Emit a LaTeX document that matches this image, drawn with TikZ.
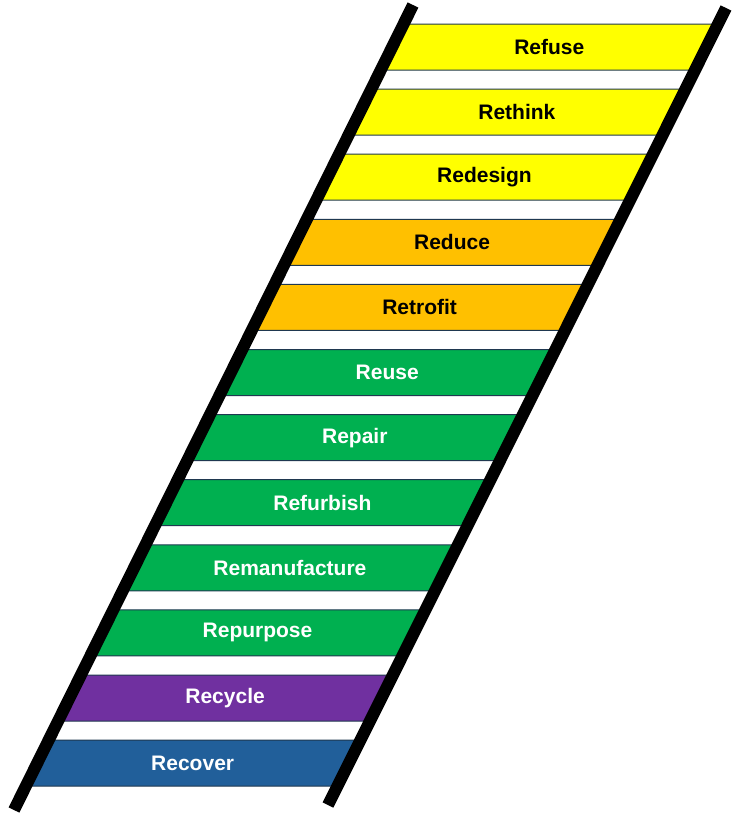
\documentclass[tikz,border=0pt]{standalone}
\usepackage{fontspec}
\setmainfont{Liberation Sans}
\usetikzlibrary{calc}
\definecolor{rYellow}{HTML}{FFFF00}
\definecolor{rOrange}{HTML}{FFC000}
\definecolor{rGreen}{HTML}{00B050}
\definecolor{rPurple}{HTML}{7030A0}
\definecolor{rBlue}{HTML}{215F9A}
\definecolor{rEdge}{HTML}{1F3850}
\tikzset{rung/.style={draw=rEdge, line width=1pt},
  label/.style={font=\fontsize{21}{24}\selectfont\bfseries},
  rail/.style={line width=12pt, black}}
\begin{document}
\begin{tikzpicture}[x=1pt, y=-1pt]
   \useasboundingbox (0,0) rectangle (740,817);
   % rungs
   \foreach \name/\col/\txt [count=\i] in {Refuse/rYellow/black, Rethink/rYellow/black,
      Redesign/rYellow/black, Reduce/rOrange/black, Retrofit/rOrange/black,
      Reuse/rGreen/white, Repair/rGreen/white, Refurbish/rGreen/white,
      Remanufacture/rGreen/white, Repurpose/rGreen/white, Recycle/rPurple/white,
      Recover/rBlue/white}{
      \pgfmathsetmacro\yt{24+65.1*(\i-1)}
      \pgfmathsetmacro\yb{\yt+46}
      \pgfmathsetmacro\xlt{413-0.496*(\yt-5)}
      \pgfmathsetmacro\xlb{413-0.496*(\yb-5)}
      \pgfmathsetmacro\xrt{726-0.5*(\yt-8)}
      \pgfmathsetmacro\xrb{726-0.5*(\yb-8)}
      \filldraw[rung, fill=\col] (\xlt,\yt) -- (\xrt,\yt) -- (\xrb,\yb) -- (\xlb,\yb) -- cycle;
      \node[label, text=\txt] (r\i) at ({(\xlt+\xrb)/2},{(\yt+\yb)/2}) {\name};
   }
   % rails
   \coordinate (lt) at (413,5);
   \coordinate (lb) at (14,810);
   \coordinate (rt) at (726,8);
   \coordinate (rb) at (328,805);
   \draw[rail] (lt) -- (lb);
   \draw[rail] (rt) -- (rb);
\end{tikzpicture}
\end{document}
